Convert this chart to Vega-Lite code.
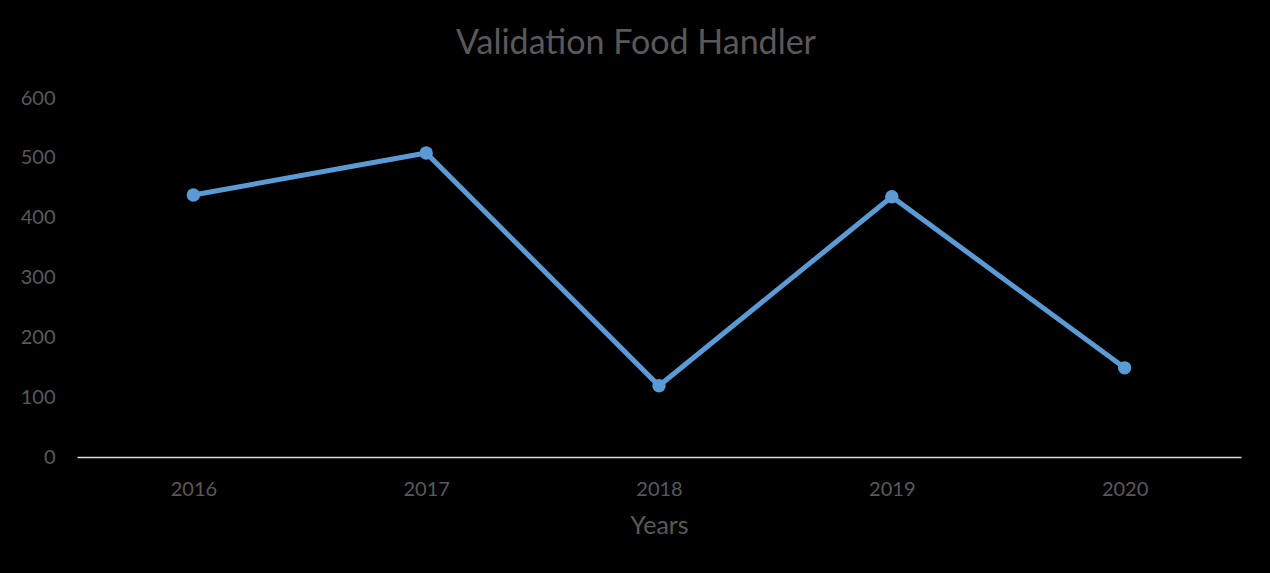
{
  "$schema": "https://vega.github.io/schema/vega-lite/v6.json",
  "width": 1164,
  "height": 359,
  "autosize": "none",
  "padding": {"left": 77, "top": 98, "right": 29, "bottom": 116},
  "background": "#000000",
  "title": {"text": "Validation Food Handler", "font": "Lato", "fontSize": 34, "fontWeight": "normal", "color": "#595959", "anchor": "middle", "offset": 27, "dx": -23},
  "data": {"values": [
    {"year": "2016", "value": 438},
    {"year": "2017", "value": 508},
    {"year": "2018", "value": 119},
    {"year": "2019", "value": 435},
    {"year": "2020", "value": 149}
  ]},
  "config": {"view": {"stroke": null}},
  "mark": {"type": "line", "color": "#5b9bd5", "strokeWidth": 5, "point": {"filled": true, "size": 180, "color": "#5b9bd5", "opacity": 1}},
  "encoding": {
    "x": {"field": "year", "type": "ordinal", "scale": {"type": "point", "padding": 0.5},
      "axis": {"title": "Years", "titleFont": "Lato", "titleFontSize": 25, "titleFontWeight": "normal", "titleColor": "#595959", "titlePadding": 14,
        "labelFont": "Lato", "labelFontSize": 20, "labelColor": "#595959", "labelPadding": 22, "labelAngle": 0,
        "ticks": false, "domainColor": "#d9d9d9", "domainWidth": 1.5, "grid": false}},
    "y": {"field": "value", "type": "quantitative", "scale": {"domain": [0, 600]},
      "axis": {"title": null, "values": [0, 100, 200, 300, 400, 500, 600], "labelFont": "Lato", "labelFontSize": 20, "labelColor": "#595959", "labelPadding": 22,
        "ticks": false, "domain": false, "grid": false}}
  }
}
